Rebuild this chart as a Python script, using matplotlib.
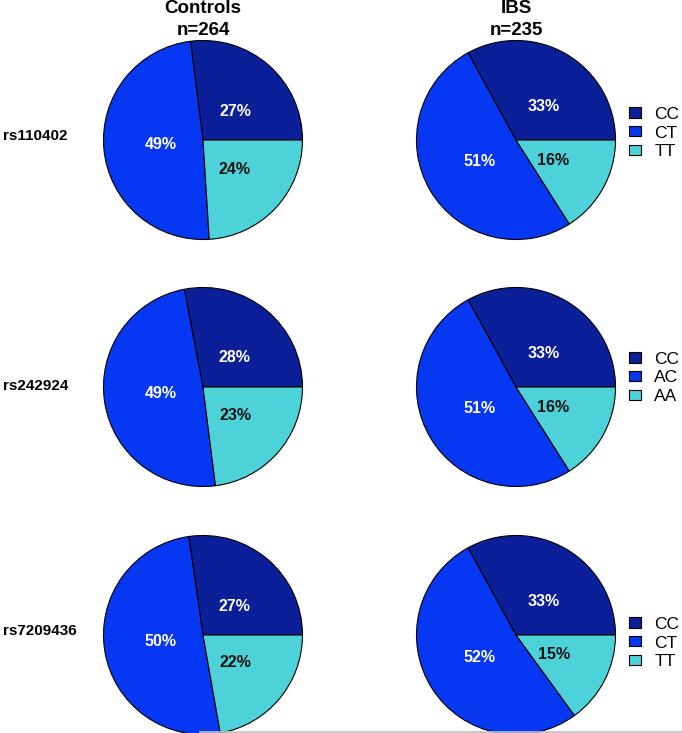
import numpy as np
import matplotlib.pyplot as plt
from matplotlib.lines import Line2D

plt.rcParams["font.family"] = ["Liberation Sans", "DejaVu Sans"]

W, H = 682, 733

snps = ["rs110402", "rs242924", "rs7209436"]
genotypes = [["CC", "CT", "TT"], ["CC", "AC", "AA"], ["CC", "CT", "TT"]]
controls = [[27, 49, 24], [28, 49, 23], [27, 50, 22]]
ibs = [[33, 51, 16], [33, 51, 16], [33, 52, 15]]
group_names = ["Controls", "IBS"]
group_n = ["n=264", "n=235"]

COLOURS = ["#0B1F98", "#0637F2", "#4ED2DA"]
LABEL_COLOURS = ["white", "white", "#111111"]

# pixel layout
col_x = [203, 516]
row_y = [140, 387, 635]
radius = 99.5
legend_y = [133, 378, 643]
label_y = [136, 386, 631]


def pie_axes(fig, cx, cy, r):
    ax = fig.add_axes([(cx - r) / W, 1 - (cy + r) / H, 2 * r / W, 2 * r / H])
    ax.set_facecolor("none")
    return ax


def draw_pie(ax, values):
    wedges, _, autotexts = ax.pie(
        values,
        colors=COLOURS,
        startangle=0,
        counterclock=True,
        autopct=lambda p: "",
        pctdistance=0.43,
        wedgeprops=dict(edgecolor="black", linewidth=0.8),
    )
    for k, (t, v, c) in enumerate(zip(autotexts, values, LABEL_COLOURS)):
        t.set_text(f"{v}%")
        t.set_color(c)
        t.set_fontsize(11.5)
        t.set_fontweight("bold")
        if k == 0:
            # first label sits a little lower than the wedge middle
            ang = np.deg2rad(0.85 * (wedges[0].theta1 + wedges[0].theta2) / 2)
            t.set_position((0.43 * np.cos(ang), 0.43 * np.sin(ang)))
    ax.set_xlim(-1, 1)
    ax.set_ylim(-1, 1)
    return wedges


fig = plt.figure(figsize=(W / 100, H / 100), dpi=100)

for i in range(3):
    for j, data in enumerate([controls, ibs]):
        ax = pie_axes(fig, col_x[j], row_y[i], radius)
        wedges = draw_pie(ax, data[i])
        if j == 1:
            fig.legend(
                wedges,
                genotypes[i],
                loc="center left",
                bbox_to_anchor=(629 / W, 1 - legend_y[i] / H),
                frameon=False,
                fontsize=12.5,
                handlelength=0.7,
                handleheight=0.52,
                handletextpad=0.75,
                labelspacing=0.22,
                borderaxespad=0,
                borderpad=0,
            )
    fig.text(3 / W, 1 - label_y[i] / H, snps[i], fontsize=11,
             fontweight="bold", ha="left", va="center")

for j in range(2):
    fig.text(col_x[j] / W, 1 - 13 / H, group_names[j], fontsize=13.5,
             fontweight="bold", ha="center", va="baseline")
    fig.text(col_x[j] / W, 1 - 35 / H, group_n[j], fontsize=13.5,
             fontweight="bold", ha="center", va="baseline")

fig.add_artist(Line2D([200 / W, 1], [1.5 / H, 1.5 / H], color="#c0c0c0", lw=1.2))

fig.savefig("out.png", dpi=100, facecolor="white")
